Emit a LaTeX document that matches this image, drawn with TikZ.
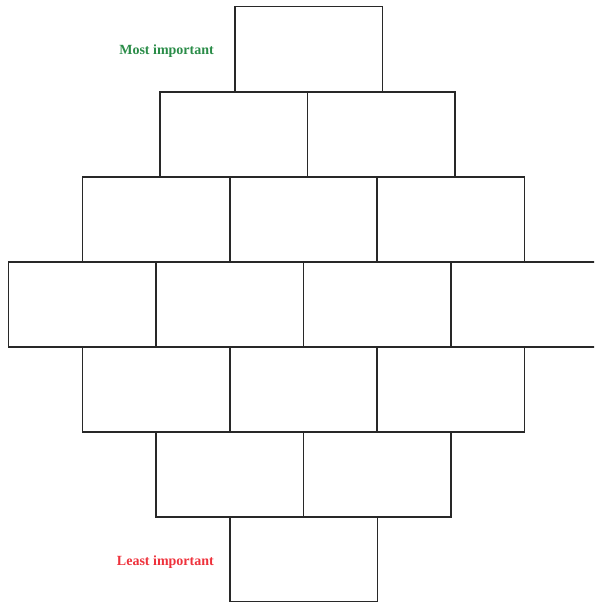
\documentclass[tikz,border=0pt]{standalone}
\usepackage{fontspec}
\setmainfont{Liberation Serif}
\usepackage{xcolor}
\usetikzlibrary{positioning}
\definecolor{dGreen}{RGB}{42,140,72}
\definecolor{dRed}{RGB}{238,50,60}
\definecolor{bLine}{RGB}{40,40,40}
\begin{document}
\begin{tikzpicture}[x=1pt,y=1pt,
  bx/.style={draw=bLine,line width=1.2pt,rectangle,minimum width=147.5pt,minimum height=85pt,inner sep=0pt},
  lbl/.style={font=\fontsize{14}{16}\selectfont\bfseries}]
\useasboundingbox (0,0) rectangle (594,-602);
\clip (0,0) rectangle (594,-602);
\def\rA{-49.3}\def\rB{-134.5}\def\rC{-219.5}\def\rD{-304.5}\def\rE{-389.5}\def\rF{-474.5}\def\rG{-559}
% top
\node[bx] (r1a) at (308.7,\rA) {};
\node[bx] (r2a) at (233.8,\rB) {};
\node[bx] (r2b) at (381.3,\rB) {};
\node[bx] (r3a) at (156.3,\rC) {};
\node[bx] (r3b) at (303.7,\rC) {};
\node[bx] (r3c) at (450.8,\rC) {};
% middle row
\node[bx] (r4a) at (82.3,\rD) {};
\node[bx] (r4b) at (229.7,\rD) {};
\node[bx] (r4c) at (377.2,\rD) {};
\node[bx] (r4d) at (524.7,\rD) {};
% bottom
\node[bx] (r5a) at (156.3,\rE) {};
\node[bx] (r5b) at (303.7,\rE) {};
\node[bx] (r5c) at (450.8,\rE) {};
\node[bx] (r6a) at (229.7,\rF) {};
\node[bx] (r6b) at (377.2,\rF) {};
\node[bx] (r7a) at (303.7,\rG) {};
\node[lbl,text=dGreen,left=17pt of r1a,yshift=-2pt] (most) {Most important};
\node[lbl,text=dRed,left=12pt of r7a,yshift=-3pt] (least) {Least important};
\end{tikzpicture}
\end{document}
